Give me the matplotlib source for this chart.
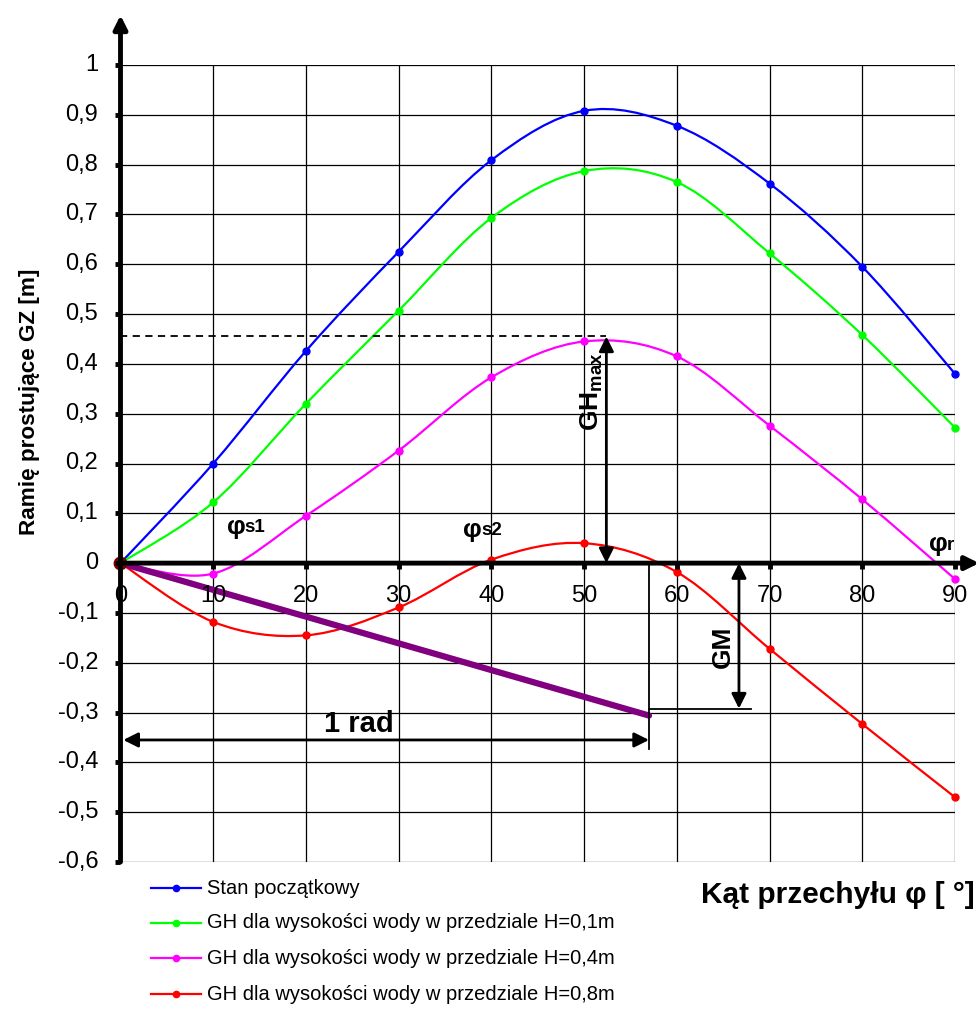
import numpy as np
import matplotlib
matplotlib.use("Agg")
import matplotlib.pyplot as plt
from matplotlib.path import Path
from matplotlib.patches import PathPatch
from matplotlib.lines import Line2D

plt.rcParams['font.family'] = ['Liberation Sans', 'DejaVu Sans']

angles = [0, 10, 20, 30, 40, 50, 60, 70, 80, 90]
gz_initial = [0, 0.200, 0.426, 0.625, 0.809, 0.908, 0.878, 0.762, 0.595, 0.380]
gh_h01 = [0, 0.122, 0.320, 0.507, 0.693, 0.787, 0.765, 0.622, 0.458, 0.272]
gh_h04 = [0, -0.021, 0.095, 0.226, 0.373, 0.445, 0.415, 0.276, 0.128, -0.032]
gh_h08 = [0, -0.118, -0.145, -0.089, 0.007, 0.040, -0.018, -0.172, -0.323, -0.470]
series_labels = ["Stan początkowy",
                 "GH dla wysokości wody w przedziale H=0,1m",
                 "GH dla wysokości wody w przedziale H=0,4m",
                 "GH dla wysokości wody w przedziale H=0,8m"]
series_colors = ["#0000FF", "#00FF00", "#FF00FF", "#FF0000"]

rad_deg = 57.0
gm_end = -0.306
gm_line = -0.292
ghmax_level = 0.455
ghmax_x = 52.4
gm_x = 66.7
y_ticks = [-0.6, -0.5, -0.4, -0.3, -0.2, -0.1, 0, 0.1, 0.2, 0.3, 0.4, 0.5, 0.6, 0.7, 0.8, 0.9, 1]
y_ticklabels = ["-0,6", "-0,5", "-0,4", "-0,3", "-0,2", "-0,1", "0", "0,1", "0,2", "0,3",
                "0,4", "0,5", "0,6", "0,7", "0,8", "0,9", "1"]


def smooth_path(x, y):
    x = np.asarray(x, float)
    y = np.asarray(y, float)
    n = len(x)
    verts = [(x[0], y[0])]
    codes = [Path.MOVETO]
    for i in range(n - 1):
        im = max(i - 1, 0)
        ip = min(i + 2, n - 1)
        c1 = (x[i] + (x[i + 1] - x[im]) / 6, y[i] + (y[i + 1] - y[im]) / 6)
        c2 = (x[i + 1] - (x[ip] - x[i]) / 6, y[i + 1] - (y[ip] - y[i]) / 6)
        verts += [c1, c2, (x[i + 1], y[i + 1])]
        codes += [Path.CURVE4] * 3
    return Path(verts, codes)


fig = plt.figure(figsize=(9.79, 10.10), dpi=100)
ax = fig.add_axes([120.5 / 979, 148 / 1010, (955 - 120.5) / 979, (945 - 148) / 1010])
ax.set_xlim(0, 90)
ax.set_ylim(-0.6, 1.0)

# grid
for gx in angles:
    ax.axvline(gx, color='black', lw=0.9, zorder=1)
for gy in y_ticks:
    ax.axhline(gy, color='black', lw=0.9, zorder=1)
for s in ax.spines.values():
    s.set_visible(False)
ax.set_xticks([])
ax.set_yticks([])

# series
for vals, col in zip([gz_initial, gh_h01, gh_h04, gh_h08], series_colors):
    ax.add_patch(PathPatch(smooth_path(angles, vals), fill=False, edgecolor=col, lw=1.6, zorder=4))
    ax.plot(angles, vals, linestyle='none', marker='o', ms=5, color=col, zorder=5, clip_on=False)

# 1 rad line (purple)
ax.plot([0, rad_deg], [0, gm_end], color='#800080', lw=4.5, solid_capstyle='round', zorder=6)
ax.plot([0], [0], marker='o', ms=9, color='#800000', zorder=7, clip_on=False)

# axes arrows
ax.annotate('', xy=(0, 1.10), xytext=(0, -0.6), xycoords='data',
            arrowprops=dict(arrowstyle='-|>', color='black', lw=3.5, mutation_scale=20,
                            shrinkA=0, shrinkB=0), annotation_clip=False, zorder=8)
ax.annotate('', xy=(92.6, 0), xytext=(0, 0), xycoords='data',
            arrowprops=dict(arrowstyle='-|>', color='black', lw=3.5, mutation_scale=20,
                            shrinkA=0, shrinkB=0), annotation_clip=False, zorder=8)

# tick marks and labels
for gy, lab in zip(y_ticks, y_ticklabels):
    ax.plot([-0.6, 0], [gy, gy], color='black', lw=3.5, clip_on=False, zorder=8, solid_capstyle='butt')
    ax.text(-2.4, gy, lab, ha='right', va='center', fontsize=17)
for gx in angles:
    ax.plot([gx, gx], [0, -0.012], color='black', lw=3.5, clip_on=False, zorder=8, solid_capstyle='butt')
    ax.text(gx, -0.066, str(gx), ha='center', va='center', fontsize=17, zorder=9)

# GHmax
ax.plot([0, ghmax_x], [ghmax_level, ghmax_level], color='black', lw=1.3, ls=(0, (4, 3)), zorder=6)
ax.annotate('', xy=(ghmax_x, ghmax_level), xytext=(ghmax_x, 0),
            arrowprops=dict(arrowstyle='<|-|>', color='black', lw=2, mutation_scale=22,
                            shrinkA=0, shrinkB=0), zorder=8)
ax.text(ghmax_x - 0.2, 0.345, 'GH$_{\\mathregular{max}}$', rotation=90, ha='right', va='center',
        fontsize=19, fontweight='bold', zorder=9)

# GM
ax.plot([rad_deg, rad_deg], [0, -0.374], color='black', lw=1.3, zorder=6)
ax.plot([rad_deg, 68.0], [gm_line, gm_line], color='black', lw=1.3, zorder=6)
ax.annotate('', xy=(gm_x, gm_line), xytext=(gm_x, 0),
            arrowprops=dict(arrowstyle='<|-|>', color='black', lw=2, mutation_scale=22,
                            shrinkA=0, shrinkB=0), zorder=8)
ax.text(gm_x - 0.4, -0.168, 'GM', rotation=90, ha='right', va='center',
        fontsize=19, fontweight='bold', zorder=9)

# 1 rad
ax.annotate('', xy=(rad_deg, -0.355), xytext=(0.3, -0.355),
            arrowprops=dict(arrowstyle='<|-|>', color='black', lw=2, mutation_scale=22,
                            shrinkA=0, shrinkB=0), zorder=8)
ax.text(25.7, -0.322, '1 rad', ha='center', va='center', fontsize=21, fontweight='bold', zorder=9)

# phi labels
ax.text(12.45, 0.072, 'φ', ha='center', va='center', fontsize=19, fontweight='bold', zorder=9)
ax.text(13.4, 0.072, 's1', ha='left', va='center', fontsize=13.5, fontweight='bold', zorder=9)
ax.text(37.9, 0.066, 'φ', ha='center', va='center', fontsize=19, fontweight='bold', zorder=9)
ax.text(38.9, 0.066, 's2', ha='left', va='center', fontsize=13.5, fontweight='bold', zorder=9)
ax.text(88.2, 0.038, 'φ', ha='center', va='center', fontsize=19, fontweight='bold', zorder=9)
ax.text(89.1, 0.036, 'r', ha='left', va='center', fontsize=13.5, fontweight='bold', zorder=9)

# axis labels
fig.text(30 / 979, 1 - 402 / 1010, 'Ramię prostujące GZ [m]', rotation=90, ha='center', va='center',
         fontsize=16.2, fontweight='bold')
fig.text(975 / 979, 1 - 895 / 1010, 'Kąt przechyłu φ [ °]', ha='right', va='center',
         fontsize=21.5, fontweight='bold')

# legend (drawn manually)
row_y = [888, 923, 958, 994]
for lab, col, ry in zip(series_labels, series_colors, row_y):
    yf = 1 - ry / 1010
    fig.add_artist(Line2D([151 / 979, 201 / 979], [yf, yf], color=col, lw=1.6,
                          transform=fig.transFigure))
    fig.add_artist(Line2D([176 / 979], [yf], color=col, marker='o', ms=4.5, linestyle='none',
                          transform=fig.transFigure))
    fig.text(207 / 979, yf, lab, ha='left', va='center', fontsize=14.5)

fig.savefig('out.png', dpi=100)
